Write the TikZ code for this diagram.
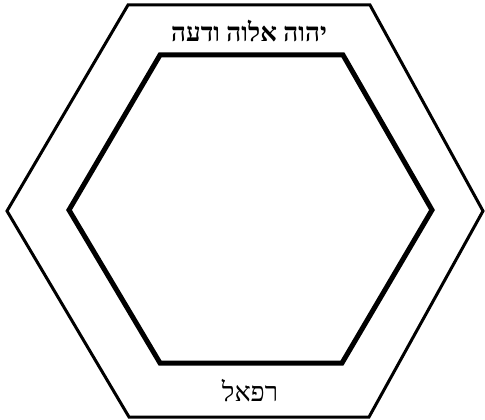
\documentclass[tikz,border=0pt]{standalone}
\usepackage{fontspec}
\newfontfamily\hebfont[Script=Hebrew]{Liberation Serif}
\TeXXeTstate=1
\usetikzlibrary{calc}

\begin{document}
\begin{tikzpicture}[x=1pt,y=-1pt]
  \useasboundingbox (0,0) rectangle (485,420);
  \coordinate (A1) at (128,5);
  \coordinate (A2) at (370,5);
  \coordinate (A3) at (483,211);
  \coordinate (A4) at (369,417);
  \coordinate (A5) at (129,417);
  \coordinate (A6) at (7,211);
  \coordinate (B1) at (160,55);
  \coordinate (B2) at (343,55);
  \coordinate (B3) at (432,210);
  \coordinate (B4) at (342,363);
  \coordinate (B5) at (160,363);
  \coordinate (B6) at (69,210);
  \draw[line width=3pt,line join=miter] (A1)--(A2)--(A3)--(A4)--(A5)--(A6)--cycle;
  \draw[line width=5pt,line join=miter] (B1)--(B2)--(B3)--(B4)--(B5)--(B6)--cycle;
  \node (top) at (249,31) {\hebfont\bfseries\fontsize{26}{30}\selectfont\beginR יהוה אלוה ודעה\endR};
  \node (bot) at (250,391) {\hebfont\fontsize{27}{30}\selectfont\beginR רפאל\endR};
\end{tikzpicture}
\end{document}
